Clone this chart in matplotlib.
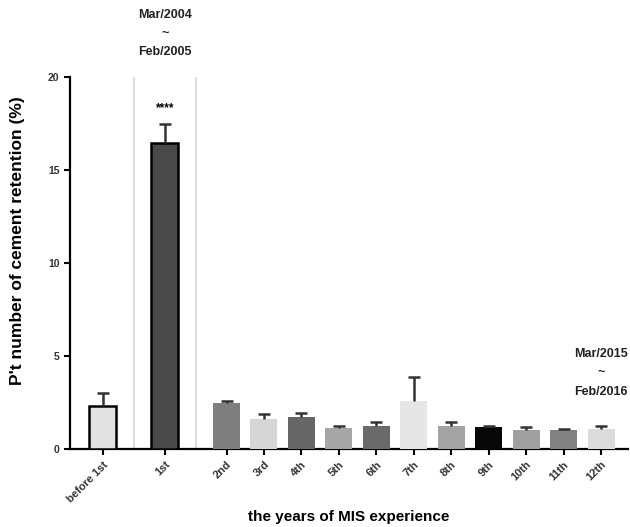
import numpy as np
import matplotlib.pyplot as plt

plt.rcParams['font.family'] = ['Liberation Sans', 'DejaVu Sans']

# data
years = ['before 1st', '1st', '2nd', '3rd', '4th', '5th', '6th', '7th',
         '8th', '9th', '10th', '11th', '12th']
retention = [2.33, 16.43, 2.45, 1.6, 1.74, 1.11, 1.25, 2.6, 1.25, 1.17, 1.02, 1.0, 1.06]
err = [0.67, 1.04, 0.15, 0.3, 0.21, 0.13, 0.22, 1.29, 0.22, 0.04, 0.15, 0.06, 0.18]
colors = ['#e2e2e2', '#4a4a4a', '#7f7f7f', '#d6d6d6', '#666666', '#a6a6a6',
          '#6a6a6a', '#e6e6e6', '#a3a3a3', '#080808', '#a0a0a0', '#828282', '#dcdcdc']
period_first = 'Mar/2004\n~\nFeb/2005'
period_last = 'Mar/2015\n~\nFeb/2016'

# first two groups separated by wider gaps
pos = np.concatenate([[0, 1.65], 3.3 + np.arange(len(years) - 2)])
top = np.array(retention) + np.array(err)

fig = plt.figure(figsize=(6.3, 5.27), dpi=100)
ax = fig.add_axes([0.111, 0.148, 0.886, 0.706])

for i in range(len(years)):
    edge = 'black' if i < 2 else colors[i]
    lw = 1.8 if i < 2 else 0
    ax.bar(pos[i], retention[i], width=0.72, color=colors[i], edgecolor=edge,
           linewidth=lw, zorder=3)
# upper error bars only, cap on top
ax.vlines(pos, retention, top, color='#333333', lw=1.8, zorder=4)
ax.plot(pos, top, ls='none', marker='_', ms=9, mew=1.8, color='#333333', zorder=4)

# separators around the first year
for xs in [(pos[0] + pos[1]) / 2, (pos[1] + pos[2]) / 2]:
    ax.plot([xs, xs], [0, 20], color='#d4d4d4', lw=1.2, zorder=1)

ax.text(pos[1], 18.0, '****', ha='center', va='bottom', fontsize=8.5, fontweight='bold')
ax.text(pos[1], 21.0, period_first, ha='center', va='bottom', fontsize=9,
        fontweight='bold', linespacing=1.75, color='#222222', clip_on=False)
ax.text(pos[-1], 2.75, period_last, ha='center', va='bottom', fontsize=9,
        fontweight='bold', linespacing=1.75, color='#222222', clip_on=False)

ax.set_xlim(-0.88, 14.02)
ax.set_ylim(0, 20)
ax.set_yticks([0, 5, 10, 15, 20])
ax.set_xticks(pos)
ax.set_xticklabels(years, rotation=45, ha='right', rotation_mode='anchor',
                   fontsize=8, fontweight='bold', color='#333333')
ax.tick_params(axis='y', labelsize=7.5, width=1.5, length=4, labelcolor='#333333')
ax.tick_params(axis='x', width=1.5, length=4)
for lab in ax.get_yticklabels():
    lab.set_fontweight('bold')

ax.spines['top'].set_visible(False)
ax.spines['right'].set_visible(False)
ax.spines['left'].set_linewidth(1.6)
ax.spines['bottom'].set_linewidth(1.6)

ax.set_ylabel("P't number of cement retention (%)", fontsize=12.5, fontweight='bold')
ax.yaxis.set_label_coords(-0.08, 0.56)
ax.set_xlabel('the years of MIS experience', fontsize=11, fontweight='bold')
ax.xaxis.set_label_coords(0.5, -0.165)

fig.savefig('out.png', dpi=100)
